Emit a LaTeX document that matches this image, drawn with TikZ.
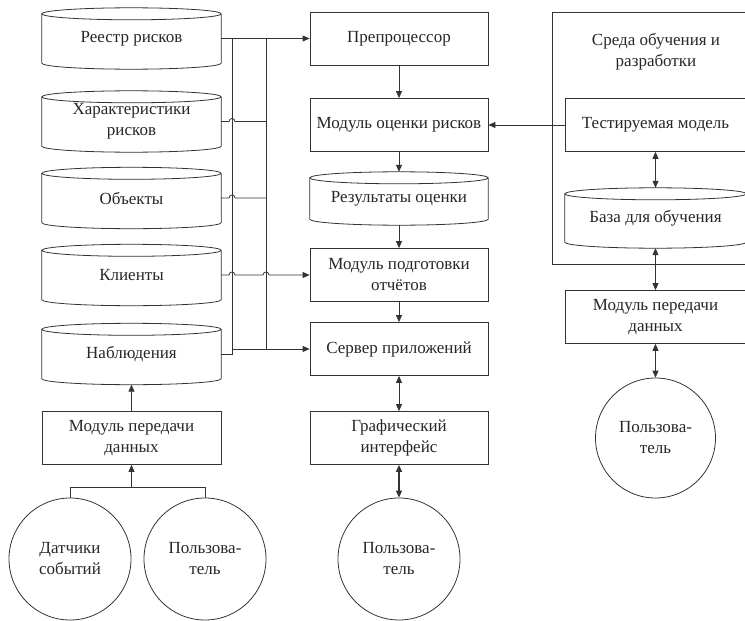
\documentclass[tikz,border=0pt]{standalone}
\usepackage{fontspec}
\setmainfont{Liberation Serif}
\usetikzlibrary{arrows.meta,calc}
\tikzset{
  base/.style={font=\fontsize{17}{21}\selectfont, align=center, text=black!85},
  box/.style={base, draw=black!80, line width=0.8pt, rectangle, minimum width=178pt, minimum height=53pt, inner sep=0pt},
  cyl/.style={base, rectangle, minimum width=179pt, minimum height=61pt, inner sep=0pt},
  actor/.style={base, draw=black!80, line width=0.8pt, circle, minimum size=122pt, inner sep=0pt},
  conn/.style={draw=black!80, line width=0.8pt},
  arr/.style={conn, -{Triangle[length=7pt,width=6pt]}},
  darr/.style={conn, {Triangle[length=7pt,width=6pt]}-{Triangle[length=7pt,width=6pt]}},
}
\newcommand\drawcyl[1]{\draw[conn] let \p1=(#1.north west), \p2=(#1.south east), \n1={(\x2-\x1)/2} in
  (\x1,\y1-6pt) -- (\x1,\y2+6pt) arc[start angle=180,end angle=360,x radius=\n1,y radius=6pt]
  -- (\x2,\y1-6pt) arc[start angle=0,end angle=180,x radius=\n1,y radius=6pt]
  arc[start angle=180,end angle=360,x radius=\n1,y radius=6pt];}
\begin{document}
\begin{tikzpicture}[x=1pt,y=1pt]
\useasboundingbox (0,0) rectangle (745,-621);
% left column
\node[cyl] (c1) at (131.5,-38.5) {Реестр рисков};
\node[cyl] (c2) at (131.5,-121.5) {Характеристики\\рисков};
\node[cyl] (c3) at (131.5,-198) {Объекты};
\node[cyl] (c4) at (131.5,-275) {Клиенты};
\node[cyl] (c5) at (131.5,-354) {Наблюдения};
\drawcyl{c1}
\drawcyl{c2}
\drawcyl{c3}
\drawcyl{c4}
\drawcyl{c5}
\node[box, minimum width=179pt] (mpd1) at (131.5,-438) {Модуль передачи\\данных};
\node[actor] (d1) at (70,-559) {Датчики\\событий};
\node[actor] (u1) at (205,-559) {Пользова-\\тель};
% middle column
\node[box] (pre) at (399,-38.5) {Препроцессор};
\node[box] (mor) at (399,-125) {Модуль оценки рисков};
\node[cyl, minimum width=178pt, minimum height=53pt] (res) at (399,-198.5) {Результаты оценки};
\drawcyl{res}
\node[box] (mpo) at (399,-275) {Модуль подготовки\\отчётов};
\node[box] (srv) at (399,-349) {Сервер приложений};
\node[box] (gui) at (399,-438) {Графический\\интерфейс};
\node[actor] (u2) at (399,-559) {Пользова-\\тель};
% right column
\node[draw=black!80, line width=0.8pt, rectangle, minimum width=198pt, minimum height=252pt, inner sep=0pt] (env) at (651,-138) {};
\node[base] (envt) at (656,-52) {Среда обучения и\\разработки};
\node[box, minimum width=181pt] (tm) at (655.5,-125) {Тестируемая модель};
\node[cyl, minimum width=181pt, minimum height=60pt] (bdo) at (655.5,-218) {База для обучения};
\drawcyl{bdo}
\node[box, minimum width=181pt] (mpd2) at (655.5,-317) {Модуль передачи\\данных};
\node[actor, minimum size=120pt] (u3) at (655.5,-438) {Пользова-\\тель};
% bus
\coordinate (busA) at (232,-38.5);
\coordinate (busB) at (266,-38.5);
\coordinate (join) at (131.5,-487);
\draw[arr] (c1.east) -- (pre.west);
\draw[conn] (c5.east) -- (c5.east -| busA) -- (busA);
\draw[arr] (busA |- srv.west) -- (srv.west);
\draw[conn] (busB) -- (busB |- srv.west);
\draw[conn] (c2.east) -- ([xshift=-3pt]busA |- c2.east) arc[start angle=180,end angle=0,radius=3pt] -- (busB |- c2.east);
\draw[conn] (c3.east) -- ([xshift=-3pt]busA |- c3.east) arc[start angle=180,end angle=0,radius=3pt] -- (busB |- c3.east);
\draw[arr] (c4.east) -- ([xshift=-3pt]busA |- c4.east) arc[start angle=180,end angle=0,radius=3pt]
  -- ([xshift=-3pt]busB |- c4.east) arc[start angle=180,end angle=0,radius=3pt] -- (mpo.west);
% left bottom
\draw[arr] (mpd1.north) -- (c5.south);
\draw[conn] (d1.north) -- (d1.north |- join) -- (u1.north |- join) -- (u1.north);
\draw[arr] (join) -- (mpd1.south);
% middle flow
\draw[arr] (pre.south) -- (mor.north);
\draw[arr] (mor.south) -- (res.north);
\draw[arr] (res.south) -- (mpo.north);
\draw[arr] (mpo.south) -- (srv.north);
\draw[darr] (srv.south) -- (gui.north);
\draw[darr, line width=1.3pt] (gui.south) -- (u2.north);
% right flow
\draw[arr] (tm.west) -- (mor.east);
\draw[darr] (tm.south) -- (bdo.north);
\draw[darr] (bdo.south) -- (mpd2.north);
\draw[darr] (mpd2.south) -- (u3.north);
\end{tikzpicture}
\end{document}
